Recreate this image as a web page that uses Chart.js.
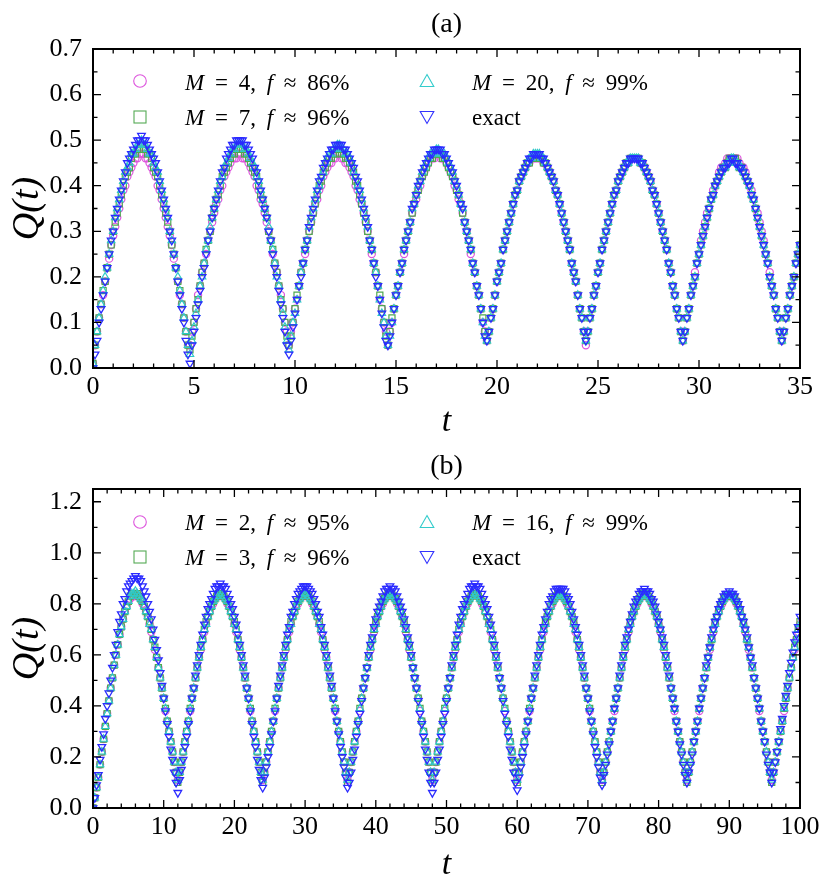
<!DOCTYPE html>
<html><head><meta charset="utf-8">
<script src="https://cdn.jsdelivr.net/npm/chart.js@4.4.1/dist/chart.umd.min.js"></script>
<style>
html,body{margin:0;padding:0;background:#fff;}
#wrap{position:relative;width:830px;height:890px;overflow:hidden;font-family:"Liberation Serif","DejaVu Serif",serif;}
.pane{position:absolute;left:0;width:830px;height:445px;}
.lg{position:absolute;font-size:23px;line-height:23px;white-space:nowrap;word-spacing:5px;color:#000;}
.mk{position:absolute;width:16px;height:16px;}
#warn{position:absolute;left:5px;top:5px;color:red;font-size:14px;}
</style></head><body>
<div id="wrap">
<div class="pane" style="top:0"><canvas id="ca" width="830" height="445"></canvas></div>
<div class="pane" style="top:445px"><canvas id="cb" width="830" height="445"></canvas></div>

<svg class="mk" style="left:132px;top:73px" viewBox="0 0 16 16"><circle cx="8" cy="8" r="6.3" fill="none" stroke="#dd55dd" stroke-width="1.1"/></svg>
<div class="lg" style="left:185px;top:71px"><i>M</i> = 4, <i>f</i> ≈ 86%</div>
<svg class="mk" style="left:132px;top:109px" viewBox="0 0 16 16"><rect x="2" y="2" width="12" height="12" fill="none" stroke="#55aa55" stroke-width="1.1"/></svg>
<div class="lg" style="left:185px;top:106px"><i>M</i> = 7, <i>f</i> ≈ 96%</div>
<svg class="mk" style="left:419px;top:73px" viewBox="0 0 16 16"><polygon points="8,1.5 14.8,13.5 1.2,13.5" fill="none" stroke="#33cccc" stroke-width="1.1"/></svg>
<div class="lg" style="left:472px;top:71px"><i>M</i> = 20, <i>f</i> ≈ 99%</div>
<svg class="mk" style="left:419px;top:109px" viewBox="0 0 16 16"><polygon points="1.2,2.5 14.8,2.5 8,14.5" fill="none" stroke="#3333ff" stroke-width="1.1"/></svg>
<div class="lg" style="left:472px;top:106px">exact</div>

<svg class="mk" style="left:132px;top:514px" viewBox="0 0 16 16"><circle cx="8" cy="8" r="6.3" fill="none" stroke="#dd55dd" stroke-width="1.1"/></svg>
<div class="lg" style="left:185px;top:511px"><i>M</i> = 2, <i>f</i> ≈ 95%</div>
<svg class="mk" style="left:132px;top:549px" viewBox="0 0 16 16"><rect x="2" y="2" width="12" height="12" fill="none" stroke="#55aa55" stroke-width="1.1"/></svg>
<div class="lg" style="left:185px;top:546px"><i>M</i> = 3, <i>f</i> ≈ 96%</div>
<svg class="mk" style="left:419px;top:514px" viewBox="0 0 16 16"><polygon points="8,1.5 14.8,13.5 1.2,13.5" fill="none" stroke="#33cccc" stroke-width="1.1"/></svg>
<div class="lg" style="left:472px;top:511px"><i>M</i> = 16, <i>f</i> ≈ 99%</div>
<svg class="mk" style="left:419px;top:549px" viewBox="0 0 16 16"><polygon points="1.2,2.5 14.8,2.5 8,14.5" fill="none" stroke="#3333ff" stroke-width="1.1"/></svg>
<div class="lg" style="left:472px;top:546px">exact</div>
<div id="warn"></div>
</div>
<script>
// ---------- Panel (a) data ----------
const tA = [
0.0,0.1,0.2,0.3,0.4,0.5,0.6,0.7,0.8,0.9,
1.0,1.1,1.2,1.3,1.4,1.5,1.6,1.7,1.8,1.9,
2.0,2.1,2.2,2.3,2.4,2.5,2.6,2.7,2.8,2.9,
3.0,3.1,3.2,3.3,3.4,3.5,3.6,3.7,3.8,3.9,
4.0,4.1,4.2,4.3,4.4,4.5,4.6,4.7,4.8,4.9,
5.0,5.1,5.2,5.3,5.4,5.5,5.6,5.7,5.8,5.9,
6.0,6.1,6.2,6.3,6.4,6.5,6.6,6.7,6.8,6.9,
7.0,7.1,7.2,7.3,7.4,7.5,7.6,7.7,7.8,7.9,
8.0,8.1,8.2,8.3,8.4,8.5,8.6,8.7,8.8,8.9,
9.0,9.1,9.2,9.3,9.4,9.5,9.6,9.7,9.8,9.9,
10.0,10.1,10.2,10.3,10.4,10.5,10.6,10.7,10.8,10.9,
11.0,11.1,11.2,11.3,11.4,11.5,11.6,11.7,11.8,11.9,
12.0,12.1,12.2,12.3,12.4,12.5,12.6,12.7,12.8,12.9,
13.0,13.1,13.2,13.3,13.4,13.5,13.6,13.7,13.8,13.9,
14.0,14.1,14.2,14.3,14.4,14.5,14.6,14.7,14.8,14.9,
15.0,15.1,15.2,15.3,15.4,15.5,15.6,15.7,15.8,15.9,
16.0,16.1,16.2,16.3,16.4,16.5,16.6,16.7,16.8,16.9,
17.0,17.1,17.2,17.3,17.4,17.5,17.6,17.7,17.8,17.9,
18.0,18.1,18.2,18.3,18.4,18.5,18.6,18.7,18.8,18.9,
19.0,19.1,19.2,19.3,19.4,19.5,19.6,19.7,19.8,19.9,
20.0,20.1,20.2,20.3,20.4,20.5,20.6,20.7,20.8,20.9,
21.0,21.1,21.2,21.3,21.4,21.5,21.6,21.7,21.8,21.9,
22.0,22.1,22.2,22.3,22.4,22.5,22.6,22.7,22.8,22.9,
23.0,23.1,23.2,23.3,23.4,23.5,23.6,23.7,23.8,23.9,
24.0,24.1,24.2,24.3,24.4,24.5,24.6,24.7,24.8,24.9,
25.0,25.1,25.2,25.3,25.4,25.5,25.6,25.7,25.8,25.9,
26.0,26.1,26.2,26.3,26.4,26.5,26.6,26.7,26.8,26.9,
27.0,27.1,27.2,27.3,27.4,27.5,27.6,27.7,27.8,27.9,
28.0,28.1,28.2,28.3,28.4,28.5,28.6,28.7,28.8,28.9,
29.0,29.1,29.2,29.3,29.4,29.5,29.6,29.7,29.8,29.9,
30.0,30.1,30.2,30.3,30.4,30.5,30.6,30.7,30.8,30.9,
31.0,31.1,31.2,31.3,31.4,31.5,31.6,31.7,31.8,31.9,
32.0,32.1,32.2,32.3,32.4,32.5,32.6,32.7,32.8,32.9,
33.0,33.1,33.2,33.3,33.4,33.5,33.6,33.7,33.8,33.9,
34.0,34.1,34.2,34.3,34.4,34.5,34.6,34.7,34.8,34.9,
35.0];

const qExactA = [
0.00,0.03,0.06,0.10,0.13,0.16,0.19,0.22,0.25,0.28,0.30,0.33,0.35,0.37,0.39,0.41,0.43,0.45,0.46,0.47,0.48,0.49,0.50,0.50,0.51,
0.50,0.50,0.49,0.48,0.47,0.46,0.45,0.43,0.41,0.39,0.37,0.35,0.33,0.30,0.28,0.25,0.22,0.19,0.16,0.13,0.10,0.06,0.03,
0.01,0.05,0.08,0.11,0.14,0.17,0.20,0.22,0.25,0.28,0.30,0.33,0.35,0.37,0.39,0.41,0.43,0.44,0.46,0.47,0.48,0.49,0.49,0.50,0.50,
0.50,0.50,0.49,0.49,0.48,0.47,0.46,0.44,0.43,0.41,0.39,0.37,0.35,0.33,0.30,0.28,0.25,0.22,0.20,0.17,0.14,0.11,0.08,0.05,
0.03,0.06,0.09,0.12,0.15,0.18,0.20,0.23,0.26,0.28,0.31,0.33,0.35,0.37,0.39,0.41,0.42,0.44,0.45,0.46,0.47,0.48,0.48,0.49,0.49,
0.49,0.49,0.48,0.48,0.47,0.46,0.45,0.44,0.42,0.41,0.39,0.37,0.35,0.33,0.31,0.28,0.26,0.23,0.20,0.18,0.15,0.12,0.09,0.06,
0.05,0.07,0.10,0.13,0.16,0.18,0.21,0.23,0.26,0.28,0.30,0.32,0.35,0.36,0.38,0.40,0.41,0.43,0.44,0.45,0.46,0.47,0.47,0.48,0.48,
0.48,0.48,0.47,0.47,0.46,0.45,0.44,0.43,0.41,0.40,0.38,0.36,0.35,0.32,0.30,0.28,0.26,0.23,0.21,0.18,0.16,0.13,0.10,0.07,
0.06,0.08,0.11,0.13,0.16,0.19,0.21,0.23,0.26,0.28,0.30,0.32,0.34,0.36,0.38,0.39,0.41,0.42,0.43,0.44,0.45,0.46,0.46,0.47,0.47,
0.47,0.47,0.46,0.46,0.45,0.44,0.43,0.42,0.41,0.39,0.38,0.36,0.34,0.32,0.30,0.28,0.26,0.23,0.21,0.19,0.16,0.13,0.11,0.08,
0.06,0.08,0.11,0.13,0.16,0.18,0.21,0.23,0.26,0.28,0.30,0.32,0.34,0.36,0.38,0.39,0.41,0.42,0.43,0.44,0.45,0.45,0.46,0.46,0.46,
0.46,0.46,0.45,0.45,0.44,0.43,0.42,0.41,0.39,0.38,0.36,0.34,0.32,0.30,0.28,0.26,0.23,0.21,0.18,0.16,0.13,0.11,0.08,
0.06,0.08,0.11,0.13,0.16,0.18,0.20,0.23,0.25,0.27,0.29,0.31,0.33,0.35,0.37,0.38,0.40,0.41,0.42,0.43,0.44,0.44,0.45,0.45,0.46,
0.46,0.45,0.45,0.44,0.44,0.43,0.42,0.41,0.40,0.38,0.37,0.35,0.33,0.31,0.29,0.27,0.25,0.23,0.20,0.18,0.16,0.13,0.11,0.08,
0.06,0.08,0.11,0.13,0.16,0.18,0.20,0.23,0.25,0.27];

const qM20A = [
0.01,0.05,0.08,0.11,0.14,0.17,0.20,0.22,0.25,0.28,0.30,0.33,0.35,0.37,0.39,0.41,0.43,0.44,0.45,0.47,0.47,0.48,0.49,0.49,0.50,
0.49,0.49,0.48,0.47,0.47,0.45,0.44,0.43,0.41,0.39,0.37,0.35,0.33,0.30,0.28,0.25,0.22,0.20,0.17,0.14,0.11,0.08,0.05,
0.03,0.06,0.09,0.12,0.15,0.18,0.20,0.23,0.26,0.28,0.31,0.33,0.35,0.37,0.39,0.41,0.42,0.44,0.45,0.46,0.47,0.48,0.48,0.49,0.49,
0.49,0.49,0.48,0.48,0.47,0.46,0.45,0.44,0.42,0.41,0.39,0.37,0.35,0.33,0.31,0.28,0.26,0.23,0.20,0.18,0.15,0.12,0.09,0.06,
0.04,0.07,0.10,0.12,0.15,0.18,0.21,0.23,0.26,0.28,0.31,0.33,0.35,0.37,0.39,0.40,0.42,0.43,0.45,0.46,0.47,0.47,0.48,0.48,0.49,
0.49,0.48,0.48,0.47,0.47,0.46,0.45,0.43,0.42,0.40,0.39,0.37,0.35,0.33,0.31,0.28,0.26,0.23,0.21,0.18,0.15,0.12,0.10,0.07,
0.05,0.07,0.10,0.13,0.16,0.18,0.21,0.23,0.26,0.28,0.30,0.32,0.35,0.36,0.38,0.40,0.41,0.43,0.44,0.45,0.46,0.47,0.47,0.47,0.48,
0.48,0.47,0.47,0.47,0.46,0.45,0.44,0.43,0.41,0.40,0.38,0.36,0.35,0.32,0.30,0.28,0.26,0.23,0.21,0.18,0.16,0.13,0.10,0.07,
0.06,0.08,0.11,0.13,0.16,0.19,0.21,0.23,0.26,0.28,0.30,0.32,0.34,0.36,0.38,0.39,0.41,0.42,0.43,0.44,0.45,0.46,0.46,0.47,0.47,
0.47,0.47,0.46,0.46,0.45,0.44,0.43,0.42,0.41,0.39,0.38,0.36,0.34,0.32,0.30,0.28,0.26,0.23,0.21,0.19,0.16,0.13,0.11,0.08,
0.06,0.08,0.11,0.13,0.16,0.18,0.21,0.23,0.26,0.28,0.30,0.32,0.34,0.36,0.38,0.39,0.41,0.42,0.43,0.44,0.45,0.45,0.46,0.46,0.46,
0.46,0.46,0.45,0.45,0.44,0.43,0.42,0.41,0.39,0.38,0.36,0.34,0.32,0.30,0.28,0.26,0.23,0.21,0.18,0.16,0.13,0.11,0.08,
0.06,0.08,0.11,0.13,0.16,0.18,0.20,0.23,0.25,0.27,0.29,0.31,0.33,0.35,0.37,0.38,0.40,0.41,0.42,0.43,0.44,0.44,0.45,0.45,0.46,
0.46,0.45,0.45,0.44,0.44,0.43,0.42,0.41,0.40,0.38,0.37,0.35,0.33,0.31,0.29,0.27,0.25,0.23,0.20,0.18,0.16,0.13,0.11,0.08,
0.06,0.08,0.11,0.13,0.16,0.18,0.20,0.23,0.25,0.27];

const qM7A = [
0.01,0.05,0.08,0.11,0.14,0.17,0.19,0.22,0.25,0.27,0.30,0.32,0.34,0.36,0.38,0.40,0.42,0.43,0.44,0.46,0.47,0.47,0.48,0.48,0.49,
0.48,0.48,0.47,0.47,0.46,0.44,0.43,0.42,0.40,0.38,0.36,0.34,0.32,0.30,0.27,0.25,0.22,0.19,0.17,0.14,0.11,0.08,0.05,
0.04,0.07,0.10,0.13,0.15,0.18,0.21,0.23,0.26,0.28,0.30,0.33,0.35,0.37,0.38,0.40,0.42,0.43,0.44,0.45,0.46,0.47,0.47,0.48,0.48,
0.48,0.48,0.47,0.47,0.46,0.45,0.44,0.43,0.42,0.40,0.38,0.37,0.35,0.33,0.30,0.28,0.26,0.23,0.21,0.18,0.15,0.13,0.10,0.07,
0.05,0.07,0.10,0.13,0.16,0.18,0.21,0.23,0.26,0.28,0.30,0.32,0.34,0.36,0.38,0.40,0.41,0.43,0.44,0.45,0.46,0.46,0.47,0.47,0.48,
0.48,0.47,0.47,0.46,0.46,0.45,0.44,0.43,0.41,0.40,0.38,0.36,0.34,0.32,0.30,0.28,0.26,0.23,0.21,0.18,0.16,0.13,0.10,0.07,
0.05,0.08,0.11,0.13,0.16,0.18,0.21,0.23,0.26,0.28,0.30,0.32,0.34,0.36,0.38,0.39,0.41,0.42,0.43,0.44,0.45,0.46,0.46,0.47,0.47,
0.47,0.47,0.46,0.46,0.45,0.44,0.43,0.42,0.41,0.39,0.38,0.36,0.34,0.32,0.30,0.28,0.26,0.23,0.21,0.18,0.16,0.13,0.11,0.08,
0.06,0.08,0.11,0.13,0.16,0.19,0.21,0.23,0.26,0.28,0.30,0.32,0.34,0.36,0.38,0.39,0.41,0.42,0.43,0.44,0.45,0.45,0.46,0.46,0.46,
0.46,0.46,0.46,0.45,0.45,0.44,0.43,0.42,0.41,0.39,0.38,0.36,0.34,0.32,0.30,0.28,0.26,0.23,0.21,0.19,0.16,0.13,0.11,0.08,
0.06,0.08,0.11,0.13,0.16,0.18,0.21,0.23,0.26,0.28,0.30,0.32,0.34,0.36,0.38,0.39,0.41,0.42,0.43,0.44,0.45,0.45,0.46,0.46,0.46,
0.46,0.46,0.45,0.45,0.44,0.43,0.42,0.41,0.39,0.38,0.36,0.34,0.32,0.30,0.28,0.26,0.23,0.21,0.18,0.16,0.13,0.11,0.08,
0.06,0.08,0.11,0.13,0.16,0.18,0.20,0.23,0.25,0.27,0.29,0.31,0.33,0.35,0.37,0.38,0.40,0.41,0.42,0.43,0.44,0.44,0.45,0.46,0.46,
0.46,0.46,0.45,0.44,0.44,0.43,0.42,0.41,0.40,0.38,0.37,0.35,0.33,0.31,0.29,0.27,0.25,0.23,0.20,0.18,0.16,0.13,0.11,0.08,
0.06,0.08,0.11,0.13,0.16,0.18,0.20,0.23,0.25,0.27];

const qM4A = [
0.01,0.05,0.08,0.11,0.14,0.16,0.19,0.22,0.24,0.27,0.29,0.31,0.33,0.35,0.37,0.39,0.40,0.42,0.43,0.44,0.45,0.46,0.46,0.47,0.47,
0.47,0.46,0.46,0.45,0.44,0.43,0.42,0.40,0.39,0.37,0.35,0.33,0.31,0.29,0.27,0.24,0.22,0.19,0.16,0.14,0.11,0.08,0.05,
0.05,0.08,0.10,0.13,0.16,0.18,0.21,0.23,0.25,0.28,0.30,0.32,0.34,0.36,0.37,0.39,0.40,0.42,0.43,0.44,0.45,0.46,0.46,0.46,0.47,
0.47,0.46,0.46,0.46,0.45,0.44,0.43,0.42,0.40,0.39,0.37,0.36,0.34,0.32,0.30,0.28,0.25,0.23,0.21,0.18,0.16,0.13,0.10,0.08,
0.05,0.08,0.10,0.13,0.15,0.18,0.21,0.23,0.25,0.28,0.30,0.32,0.34,0.36,0.37,0.39,0.40,0.42,0.43,0.44,0.45,0.45,0.46,0.46,0.47,
0.47,0.46,0.46,0.45,0.45,0.44,0.43,0.42,0.40,0.39,0.37,0.36,0.34,0.32,0.30,0.28,0.25,0.23,0.21,0.18,0.15,0.13,0.10,0.08,
0.05,0.08,0.10,0.13,0.16,0.18,0.21,0.23,0.25,0.28,0.30,0.32,0.34,0.36,0.37,0.39,0.40,0.42,0.43,0.44,0.45,0.46,0.46,0.46,0.47,
0.47,0.46,0.46,0.46,0.45,0.44,0.43,0.42,0.40,0.39,0.37,0.36,0.34,0.32,0.30,0.28,0.25,0.23,0.21,0.18,0.16,0.13,0.10,0.08,
0.06,0.08,0.11,0.13,0.16,0.19,0.21,0.23,0.26,0.28,0.30,0.32,0.34,0.36,0.38,0.39,0.41,0.42,0.43,0.44,0.45,0.45,0.46,0.46,0.46,
0.46,0.46,0.46,0.45,0.45,0.44,0.43,0.42,0.41,0.39,0.38,0.36,0.34,0.32,0.30,0.28,0.26,0.23,0.21,0.19,0.16,0.13,0.11,0.08,
0.05,0.08,0.11,0.13,0.16,0.18,0.21,0.23,0.26,0.28,0.30,0.32,0.34,0.36,0.38,0.39,0.41,0.42,0.43,0.44,0.45,0.45,0.46,0.46,0.46,
0.46,0.46,0.45,0.45,0.44,0.43,0.42,0.41,0.39,0.38,0.36,0.34,0.32,0.30,0.28,0.26,0.23,0.21,0.18,0.16,0.13,0.11,0.08,
0.06,0.08,0.11,0.13,0.16,0.18,0.21,0.23,0.25,0.28,0.30,0.32,0.34,0.35,0.37,0.39,0.40,0.41,0.43,0.44,0.44,0.45,0.46,0.46,0.46,
0.46,0.46,0.46,0.45,0.44,0.44,0.43,0.41,0.40,0.39,0.37,0.35,0.34,0.32,0.30,0.28,0.25,0.23,0.21,0.18,0.16,0.13,0.11,0.08,
0.06,0.08,0.11,0.13,0.16,0.18,0.20,0.23,0.25,0.27];

// ---------- Panel (b) data ----------
const tB = [
0,0.25,0.5,0.75,1,1.25,1.5,1.75,2,2.25,2.5,2.75,3,3.25,3.5,3.75,4,4.25,4.5,4.75,
5,5.25,5.5,5.75,6,6.25,6.5,6.75,7,7.25,7.5,7.75,8,8.25,8.5,8.75,9,9.25,9.5,9.75,
10,10.25,10.5,10.75,11,11.25,11.5,11.75,12,12.25,12.5,12.75,13,13.25,13.5,13.75,14,14.25,14.5,14.75,
15,15.25,15.5,15.75,16,16.25,16.5,16.75,17,17.25,17.5,17.75,18,18.25,18.5,18.75,19,19.25,19.5,19.75,
20,20.25,20.5,20.75,21,21.25,21.5,21.75,22,22.25,22.5,22.75,23,23.25,23.5,23.75,24,24.25,24.5,24.75,
25,25.25,25.5,25.75,26,26.25,26.5,26.75,27,27.25,27.5,27.75,28,28.25,28.5,28.75,29,29.25,29.5,29.75,
30,30.25,30.5,30.75,31,31.25,31.5,31.75,32,32.25,32.5,32.75,33,33.25,33.5,33.75,34,34.25,34.5,34.75,
35,35.25,35.5,35.75,36,36.25,36.5,36.75,37,37.25,37.5,37.75,38,38.25,38.5,38.75,39,39.25,39.5,39.75,
40,40.25,40.5,40.75,41,41.25,41.5,41.75,42,42.25,42.5,42.75,43,43.25,43.5,43.75,44,44.25,44.5,44.75,
45,45.25,45.5,45.75,46,46.25,46.5,46.75,47,47.25,47.5,47.75,48,48.25,48.5,48.75,49,49.25,49.5,49.75,
50,50.25,50.5,50.75,51,51.25,51.5,51.75,52,52.25,52.5,52.75,53,53.25,53.5,53.75,54,54.25,54.5,54.75,
55,55.25,55.5,55.75,56,56.25,56.5,56.75,57,57.25,57.5,57.75,58,58.25,58.5,58.75,59,59.25,59.5,59.75,
60,60.25,60.5,60.75,61,61.25,61.5,61.75,62,62.25,62.5,62.75,63,63.25,63.5,63.75,64,64.25,64.5,64.75,
65,65.25,65.5,65.75,66,66.25,66.5,66.75,67,67.25,67.5,67.75,68,68.25,68.5,68.75,69,69.25,69.5,69.75,
70,70.25,70.5,70.75,71,71.25,71.5,71.75,72,72.25,72.5,72.75,73,73.25,73.5,73.75,74,74.25,74.5,74.75,
75,75.25,75.5,75.75,76,76.25,76.5,76.75,77,77.25,77.5,77.75,78,78.25,78.5,78.75,79,79.25,79.5,79.75,
80,80.25,80.5,80.75,81,81.25,81.5,81.75,82,82.25,82.5,82.75,83,83.25,83.5,83.75,84,84.25,84.5,84.75,
85,85.25,85.5,85.75,86,86.25,86.5,86.75,87,87.25,87.5,87.75,88,88.25,88.5,88.75,89,89.25,89.5,89.75,
90,90.25,90.5,90.75,91,91.25,91.5,91.75,92,92.25,92.5,92.75,93,93.25,93.5,93.75,94,94.25,94.5,94.75,
95,95.25,95.5,95.75,96,96.25,96.5,96.75,97,97.25,97.5,97.75,98,98.25,98.5,98.75,99,99.25,99.5,99.75,
100];

const qExactB = [
0.00,0.04,0.09,0.13,0.19,0.24,0.29,0.35,0.40,0.45,0.50,0.55,0.60,0.64,0.69,0.73,0.76,0.80,0.82,0.85,0.87,0.88,0.89,0.90,0.91,
0.90,0.90,0.89,0.87,0.85,0.83,0.80,0.77,0.74,0.70,0.66,0.62,0.58,0.53,0.48,0.43,0.38,0.33,0.28,0.23,0.19,0.14,0.10,
0.06,0.11,0.15,0.19,0.24,0.28,0.33,0.38,0.43,0.47,0.52,0.56,0.60,0.64,0.68,0.72,0.75,0.78,0.80,0.82,0.84,0.86,0.87,0.87,0.88,
0.87,0.87,0.86,0.84,0.82,0.80,0.78,0.75,0.72,0.68,0.64,0.60,0.56,0.52,0.47,0.43,0.38,0.33,0.28,0.24,0.19,0.15,0.11,
0.08,0.12,0.16,0.20,0.24,0.29,0.34,0.38,0.43,0.48,0.52,0.56,0.60,0.64,0.68,0.71,0.75,0.77,0.80,0.82,0.84,0.85,0.86,0.87,0.87,
0.87,0.86,0.85,0.84,0.82,0.80,0.77,0.75,0.71,0.68,0.64,0.60,0.56,0.52,0.48,0.43,0.38,0.34,0.29,0.24,0.20,0.16,0.12,
0.08,0.10,0.14,0.19,0.23,0.28,0.33,0.37,0.42,0.47,0.51,0.55,0.60,0.64,0.67,0.71,0.74,0.77,0.79,0.81,0.83,0.85,0.86,0.86,0.87,
0.86,0.86,0.85,0.83,0.81,0.79,0.77,0.74,0.71,0.67,0.64,0.60,0.55,0.51,0.47,0.42,0.37,0.33,0.28,0.23,0.19,0.14,0.10,
0.06,0.10,0.14,0.19,0.23,0.28,0.33,0.37,0.42,0.47,0.51,0.56,0.60,0.64,0.68,0.72,0.75,0.78,0.80,0.82,0.84,0.86,0.87,0.87,0.88,
0.87,0.87,0.86,0.84,0.82,0.80,0.78,0.75,0.72,0.68,0.64,0.60,0.56,0.51,0.47,0.42,0.37,0.33,0.28,0.23,0.19,0.14,0.10,
0.07,0.12,0.16,0.20,0.24,0.29,0.34,0.38,0.43,0.47,0.52,0.56,0.60,0.64,0.68,0.71,0.74,0.77,0.80,0.82,0.83,0.85,0.86,0.86,0.86,
0.86,0.86,0.85,0.83,0.82,0.80,0.77,0.74,0.71,0.68,0.64,0.60,0.56,0.52,0.47,0.43,0.38,0.34,0.29,0.24,0.20,0.16,0.12,
0.09,0.13,0.17,0.21,0.25,0.30,0.34,0.39,0.43,0.47,0.52,0.56,0.60,0.64,0.67,0.70,0.73,0.76,0.79,0.81,0.82,0.84,0.85,0.85,0.86,
0.85,0.85,0.84,0.82,0.81,0.79,0.76,0.73,0.70,0.67,0.64,0.60,0.56,0.52,0.47,0.43,0.39,0.34,0.30,0.25,0.21,0.17,0.13,
0.10,0.14,0.17,0.21,0.26,0.30,0.34,0.39,0.43,0.47,0.51,0.56,0.59,0.63,0.67,0.70,0.73,0.75,0.78,0.80,0.81,0.83,0.84,0.84,0.85,
0.84,0.84,0.83,0.81,0.80,0.78,0.75,0.73,0.70,0.67,0.63,0.59,0.56,0.51,0.47,0.43,0.39,0.34,0.30,0.26,0.21,0.17,0.14,
0.10,0.14,0.18,0.22,0.26,0.31,0.35,0.40,0.44,0.48,0.53,0.57,0.61,0.65,0.68,0.71,0.75];

const qM16B = [
0.00,0.04,0.08,0.12,0.17,0.22,0.27,0.32,0.37,0.42,0.47,0.51,0.56,0.60,0.64,0.68,0.71,0.74,0.77,0.79,0.81,0.83,0.84,0.84,0.85,
0.84,0.83,0.82,0.81,0.79,0.77,0.75,0.72,0.70,0.66,0.63,0.59,0.55,0.51,0.47,0.43,0.39,0.34,0.30,0.26,0.22,0.18,0.14,
0.11,0.14,0.18,0.22,0.26,0.30,0.34,0.39,0.43,0.47,0.51,0.55,0.59,0.63,0.66,0.70,0.72,0.75,0.77,0.79,0.81,0.82,0.83,0.84,0.85,
0.84,0.83,0.82,0.81,0.79,0.77,0.75,0.72,0.70,0.66,0.63,0.59,0.55,0.51,0.47,0.43,0.39,0.34,0.30,0.26,0.22,0.18,0.14,
0.11,0.14,0.18,0.22,0.26,0.30,0.34,0.39,0.43,0.47,0.51,0.55,0.59,0.63,0.66,0.70,0.72,0.75,0.77,0.79,0.81,0.82,0.83,0.84,0.84,
0.84,0.83,0.82,0.81,0.79,0.77,0.75,0.72,0.70,0.66,0.63,0.59,0.55,0.51,0.47,0.43,0.39,0.34,0.30,0.26,0.22,0.18,0.14,
0.11,0.14,0.18,0.22,0.26,0.30,0.34,0.39,0.43,0.47,0.51,0.55,0.59,0.63,0.66,0.70,0.72,0.75,0.77,0.79,0.81,0.82,0.83,0.84,0.84,
0.84,0.83,0.82,0.81,0.79,0.77,0.75,0.72,0.70,0.66,0.63,0.59,0.55,0.51,0.47,0.43,0.39,0.34,0.30,0.26,0.22,0.18,0.14,
0.11,0.14,0.18,0.22,0.26,0.30,0.34,0.39,0.43,0.47,0.51,0.55,0.59,0.63,0.66,0.70,0.72,0.75,0.77,0.79,0.81,0.82,0.83,0.84,0.85,
0.84,0.83,0.82,0.81,0.79,0.77,0.75,0.72,0.70,0.66,0.63,0.59,0.55,0.51,0.47,0.43,0.39,0.34,0.30,0.26,0.22,0.18,0.14,
0.11,0.14,0.18,0.22,0.26,0.30,0.34,0.39,0.43,0.47,0.51,0.55,0.59,0.63,0.66,0.70,0.72,0.75,0.77,0.79,0.81,0.82,0.83,0.84,0.84,
0.84,0.83,0.82,0.81,0.79,0.77,0.75,0.72,0.70,0.66,0.63,0.59,0.55,0.51,0.47,0.43,0.39,0.34,0.30,0.26,0.22,0.18,0.14,
0.11,0.14,0.18,0.22,0.26,0.30,0.34,0.39,0.43,0.47,0.51,0.55,0.59,0.63,0.66,0.70,0.72,0.75,0.77,0.79,0.81,0.82,0.83,0.84,0.84,
0.84,0.83,0.82,0.81,0.79,0.77,0.75,0.72,0.70,0.66,0.63,0.59,0.55,0.51,0.47,0.43,0.39,0.34,0.30,0.26,0.22,0.18,0.14,
0.11,0.14,0.18,0.22,0.26,0.30,0.34,0.39,0.43,0.47,0.51,0.55,0.59,0.63,0.66,0.70,0.72,0.75,0.77,0.79,0.81,0.82,0.83,0.83,0.84,
0.83,0.83,0.82,0.81,0.79,0.77,0.75,0.72,0.70,0.66,0.63,0.59,0.55,0.51,0.47,0.43,0.39,0.34,0.30,0.26,0.22,0.18,0.14,
0.11,0.14,0.18,0.22,0.26,0.30,0.34,0.39,0.43,0.47,0.51,0.55,0.59,0.63,0.66,0.70,0.72];

const qM3B = [
0.00,0.04,0.08,0.12,0.17,0.22,0.27,0.32,0.37,0.42,0.47,0.51,0.56,0.60,0.64,0.68,0.71,0.74,0.77,0.79,0.81,0.83,0.84,0.84,0.84,
0.84,0.83,0.82,0.81,0.79,0.77,0.75,0.73,0.70,0.66,0.63,0.59,0.55,0.51,0.47,0.43,0.39,0.34,0.30,0.26,0.22,0.18,0.14,
0.10,0.14,0.18,0.22,0.26,0.30,0.34,0.39,0.43,0.47,0.51,0.55,0.59,0.63,0.66,0.70,0.73,0.75,0.77,0.79,0.81,0.82,0.83,0.84,0.84,
0.84,0.83,0.82,0.81,0.79,0.77,0.75,0.73,0.70,0.66,0.63,0.59,0.55,0.51,0.47,0.43,0.39,0.34,0.30,0.26,0.22,0.18,0.14,
0.10,0.14,0.18,0.22,0.26,0.30,0.34,0.39,0.43,0.47,0.51,0.55,0.59,0.63,0.66,0.70,0.73,0.75,0.77,0.79,0.81,0.82,0.83,0.84,0.84,
0.84,0.83,0.82,0.81,0.79,0.77,0.75,0.73,0.70,0.66,0.63,0.59,0.55,0.51,0.47,0.43,0.39,0.34,0.30,0.26,0.22,0.18,0.14,
0.10,0.14,0.18,0.22,0.26,0.30,0.34,0.39,0.43,0.47,0.51,0.55,0.59,0.63,0.66,0.70,0.73,0.75,0.77,0.79,0.81,0.82,0.83,0.84,0.84,
0.84,0.83,0.82,0.81,0.79,0.77,0.75,0.73,0.70,0.66,0.63,0.59,0.55,0.51,0.47,0.43,0.39,0.34,0.30,0.26,0.22,0.18,0.14,
0.10,0.14,0.18,0.22,0.26,0.30,0.34,0.39,0.43,0.47,0.51,0.55,0.59,0.63,0.66,0.70,0.73,0.75,0.77,0.79,0.81,0.82,0.83,0.84,0.84,
0.84,0.83,0.82,0.81,0.79,0.77,0.75,0.73,0.70,0.66,0.63,0.59,0.55,0.51,0.47,0.43,0.39,0.34,0.30,0.26,0.22,0.18,0.14,
0.10,0.14,0.18,0.22,0.26,0.30,0.34,0.39,0.43,0.47,0.51,0.55,0.59,0.63,0.66,0.70,0.73,0.75,0.77,0.79,0.81,0.82,0.83,0.84,0.84,
0.84,0.83,0.82,0.81,0.79,0.77,0.75,0.73,0.70,0.66,0.63,0.59,0.55,0.51,0.47,0.43,0.39,0.34,0.30,0.26,0.22,0.18,0.14,
0.10,0.14,0.18,0.22,0.26,0.30,0.34,0.39,0.43,0.47,0.51,0.55,0.59,0.63,0.66,0.70,0.73,0.75,0.77,0.79,0.81,0.82,0.83,0.84,0.84,
0.84,0.83,0.82,0.81,0.79,0.77,0.75,0.73,0.70,0.66,0.63,0.59,0.55,0.51,0.47,0.43,0.39,0.34,0.30,0.26,0.22,0.18,0.14,
0.10,0.14,0.18,0.22,0.26,0.30,0.34,0.39,0.43,0.47,0.51,0.55,0.59,0.63,0.66,0.70,0.73,0.75,0.77,0.79,0.81,0.82,0.83,0.83,0.83,
0.83,0.83,0.82,0.81,0.79,0.77,0.75,0.73,0.70,0.66,0.63,0.59,0.55,0.51,0.47,0.43,0.39,0.34,0.30,0.26,0.22,0.18,0.14,
0.10,0.14,0.18,0.22,0.26,0.30,0.34,0.39,0.43,0.47,0.51,0.55,0.59,0.63,0.66,0.70,0.73];

const qM2B = [
0.00,0.04,0.08,0.12,0.17,0.22,0.27,0.32,0.37,0.42,0.47,0.51,0.56,0.60,0.64,0.68,0.71,0.74,0.77,0.79,0.81,0.82,0.83,0.83,0.84,
0.83,0.83,0.82,0.80,0.79,0.77,0.75,0.72,0.69,0.66,0.62,0.59,0.55,0.51,0.47,0.43,0.38,0.34,0.30,0.26,0.22,0.18,0.14,
0.11,0.14,0.18,0.22,0.26,0.30,0.34,0.38,0.43,0.47,0.51,0.55,0.59,0.62,0.66,0.69,0.72,0.75,0.77,0.79,0.80,0.82,0.83,0.83,0.84,
0.83,0.83,0.82,0.80,0.79,0.77,0.75,0.72,0.69,0.66,0.62,0.59,0.55,0.51,0.47,0.43,0.38,0.34,0.30,0.26,0.22,0.18,0.14,
0.11,0.14,0.18,0.22,0.26,0.30,0.34,0.38,0.43,0.47,0.51,0.55,0.59,0.62,0.66,0.69,0.72,0.75,0.77,0.79,0.80,0.82,0.83,0.83,0.84,
0.83,0.83,0.82,0.80,0.79,0.77,0.75,0.72,0.69,0.66,0.62,0.59,0.55,0.51,0.47,0.43,0.38,0.34,0.30,0.26,0.22,0.18,0.14,
0.11,0.14,0.18,0.22,0.26,0.30,0.34,0.38,0.43,0.47,0.51,0.55,0.59,0.62,0.66,0.69,0.72,0.75,0.77,0.79,0.80,0.82,0.83,0.83,0.84,
0.83,0.83,0.82,0.80,0.79,0.77,0.75,0.72,0.69,0.66,0.62,0.59,0.55,0.51,0.47,0.43,0.38,0.34,0.30,0.26,0.22,0.18,0.14,
0.11,0.14,0.18,0.22,0.26,0.30,0.34,0.38,0.43,0.47,0.51,0.55,0.59,0.62,0.66,0.69,0.72,0.75,0.77,0.79,0.80,0.82,0.83,0.84,0.84,
0.84,0.83,0.82,0.80,0.79,0.77,0.75,0.72,0.69,0.66,0.62,0.59,0.55,0.51,0.47,0.43,0.38,0.34,0.30,0.26,0.22,0.18,0.14,
0.11,0.14,0.18,0.22,0.26,0.30,0.34,0.38,0.43,0.47,0.51,0.55,0.59,0.62,0.66,0.69,0.72,0.75,0.77,0.79,0.80,0.82,0.83,0.83,0.84,
0.83,0.83,0.82,0.80,0.79,0.77,0.75,0.72,0.69,0.66,0.62,0.59,0.55,0.51,0.47,0.43,0.38,0.34,0.30,0.26,0.22,0.18,0.14,
0.11,0.14,0.18,0.22,0.26,0.30,0.34,0.38,0.43,0.47,0.51,0.55,0.59,0.62,0.66,0.69,0.72,0.75,0.77,0.79,0.80,0.82,0.83,0.83,0.84,
0.83,0.83,0.82,0.80,0.79,0.77,0.75,0.72,0.69,0.66,0.62,0.59,0.55,0.51,0.47,0.43,0.38,0.34,0.30,0.26,0.22,0.18,0.14,
0.11,0.14,0.18,0.22,0.26,0.30,0.34,0.38,0.43,0.47,0.51,0.55,0.59,0.62,0.66,0.69,0.72,0.75,0.77,0.79,0.80,0.82,0.83,0.83,0.83,
0.83,0.83,0.82,0.80,0.79,0.77,0.75,0.72,0.69,0.66,0.62,0.59,0.55,0.51,0.47,0.43,0.38,0.34,0.30,0.26,0.22,0.18,0.14,
0.11,0.14,0.18,0.22,0.26,0.30,0.34,0.38,0.43,0.47,0.51,0.55,0.59,0.62,0.66,0.69,0.72];

// ---------- axis / tick settings ----------
const xTicksA = {max: 35, major: 5, minor: 1};
const yTicksA = {max: 0.7, major: 0.1, minor: 0.05};
const xTicksB = {max: 100, major: 10, minor: 2};
const yTicksB = {max: 1.25, major: 0.2, minor: 0.1};

const SERIF = '"Liberation Serif","DejaVu Serif",serif';
const COL = {mag:'#dd55dd', grn:'#4fa84f', cyn:'#2fc8c8', blu:'#2a2aff'};

const frameTicks = {
  id: 'frameTicks',
  afterDatasetsDraw(chart, args, o) {
    const {ctx, chartArea: a, scales: {x, y}} = chart;
    ctx.save();
    ctx.strokeStyle = '#000';
    ctx.lineWidth = 1.3;
    ctx.beginPath();
    const nx = Math.round(o.xt.max / o.xt.minor);
    const ex = Math.round(o.xt.major / o.xt.minor);
    for (let i = 0; i <= nx; i++) {
      const px = x.getPixelForValue(i * o.xt.minor);
      const L = (i % ex === 0) ? 8 : 4.5;
      ctx.moveTo(px, a.bottom); ctx.lineTo(px, a.bottom - L);
      ctx.moveTo(px, a.top); ctx.lineTo(px, a.top + L);
    }
    const ny = Math.floor(o.yt.max / o.yt.minor + 1e-6);
    const ey = Math.round(o.yt.major / o.yt.minor);
    for (let i = 0; i <= ny; i++) {
      const py = y.getPixelForValue(i * o.yt.minor);
      const L = (i % ey === 0) ? 8 : 4.5;
      ctx.moveTo(a.left, py); ctx.lineTo(a.left + L, py);
      ctx.moveTo(a.right, py); ctx.lineTo(a.right - L, py);
    }
    ctx.stroke();
    ctx.lineWidth = 2;
    ctx.strokeRect(a.left, a.top, a.right - a.left, a.bottom - a.top);
    ctx.restore();
  }
};

function makeChart(id, c) {
  const ds = c.series.map(s => ({
    label: s.label,
    data: c.t.map((t, i) => ({x: t, y: s.values[i]})),
    pointStyle: s.style,
    rotation: s.rot || 0,
    pointRadius: s.r,
    pointHoverRadius: s.r,
    borderColor: s.color,
    backgroundColor: 'rgba(0,0,0,0)',
    borderWidth: s.bw,
    order: s.order,
    showLine: false
  }));
  return new Chart(document.getElementById(id), {
    type: 'scatter',
    data: {datasets: ds},
    options: {
      responsive: false, animation: false, devicePixelRatio: 1,
      layout: {padding: {left: 0, right: 30, top: 0, bottom: 0}},
      plugins: {
        legend: {display: false},
        tooltip: {enabled: false},
        title: {display: true, text: c.title, fullSize: false, color: '#000',
                font: {family: SERIF, size: 28, weight: 'normal'},
                padding: {top: c.titlePad[0], bottom: c.titlePad[1]}},
        frameTicks: {xt: c.xt, yt: c.yt}
      },
      scales: {
        x: {
          type: 'linear', min: 0, max: c.xt.max,
          afterFit: s => { s.height = c.xH; },
          grid: {display: false, drawTicks: false}, border: {display: false},
          ticks: {stepSize: c.xt.major, padding: 4, color: '#000', maxRotation: 0, autoSkip: false,
                  includeBounds: false, font: {family: SERIF, size: 26},
                  callback: v => String(Math.round(v))},
          title: {display: true, text: 't', color: '#000',
                  font: {family: SERIF, size: 34, style: 'italic'}, padding: {top: 0, bottom: c.xTitlePad}}
        },
        y: {
          type: 'linear', min: 0, max: c.yt.max,
          afterFit: s => { s.width = 93; },
          grid: {display: false, drawTicks: false}, border: {display: false},
          ticks: {stepSize: c.yt.major, padding: 11, color: '#000', autoSkip: false,
                  includeBounds: false, font: {family: SERIF, size: 26},
                  callback: v => v.toFixed(1)},
          title: {display: true, text: 'Q(t)', color: '#000',
                  font: {family: SERIF, size: 38, style: 'italic'}, padding: {top: 5, bottom: 0}}
        }
      }
    },
    plugins: [frameTicks]
  });
}

makeChart('ca', {
  t: tA, title: '(a)', titlePad: [8.2, 7.2], xH: 77, xTitlePad: 2.6,
  xt: xTicksA, yt: yTicksA,
  series: [
    {label: 'M = 4, f ≈ 86%', values: qM4A, style: 'circle', r: 3.6, bw: 1.2, color: COL.mag, order: 3},
    {label: 'M = 7, f ≈ 96%', values: qM7A, style: 'rect', r: 4.3, bw: 1.2, color: COL.grn, order: 2},
    {label: 'M = 20, f ≈ 99%', values: qM20A, style: 'triangle', r: 4.3, bw: 1.2, color: COL.cyn, order: 1},
    {label: 'exact', values: qExactA, style: 'triangle', rot: 180, r: 4.4, bw: 1.3, color: COL.blu, order: 0}
  ]
});
makeChart('cb', {
  t: tB, title: '(b)', titlePad: [4.9, 5.5], xH: 82, xTitlePad: 4.6,
  xt: xTicksB, yt: yTicksB,
  series: [
    {label: 'M = 2, f ≈ 95%', values: qM2B, style: 'circle', r: 3.6, bw: 1.2, color: COL.mag, order: 3},
    {label: 'M = 3, f ≈ 96%', values: qM3B, style: 'rect', r: 4.3, bw: 1.2, color: COL.grn, order: 2},
    {label: 'M = 16, f ≈ 99%', values: qM16B, style: 'triangle', r: 4.3, bw: 1.2, color: COL.cyn, order: 1},
    {label: 'exact', values: qExactB, style: 'triangle', rot: 180, r: 4.4, bw: 1.3, color: COL.blu, order: 0}
  ]
});

const chk = [['A',tA,[qExactA,qM20A,qM7A,qM4A]],['B',tB,[qExactB,qM16B,qM3B,qM2B]]];
const bad = [];
chk.forEach(([n,t,arrs]) => arrs.forEach((a,i) => { if (a.length !== t.length) bad.push(n+i+':'+a.length+'/'+t.length); }));
if (bad.length) document.getElementById('warn').textContent = 'LEN ' + bad.join(' ');
</script>
</body></html>
